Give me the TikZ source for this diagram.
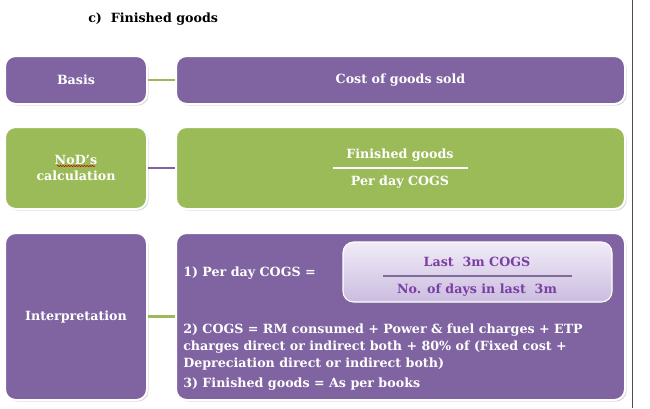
\documentclass[tikz,border=0pt]{standalone}
\usepackage{fontspec}
\setmainfont{DejaVu Serif}
\usetikzlibrary{positioning,shadows,decorations.pathmorphing}

\definecolor{boxpurple}{HTML}{8064A2}
\definecolor{boxgreen}{HTML}{9BBB59}
\definecolor{lavtop}{HTML}{F1ECF7}
\definecolor{lavbot}{HTML}{CBBCE0}
\definecolor{fractext}{HTML}{7A3FA3}
\definecolor{fracline}{HTML}{7E6B98}

\tikzset{
  box/.style={draw=white, line width=1.5pt, rounded corners=8pt, text=white,
    font=\fontsize{9.5}{12.5}\selectfont\bfseries, align=center, inner sep=0pt,
    drop shadow={opacity=0.3, shadow xshift=1.2pt, shadow yshift=-1.2pt}},
  pbox/.style={box, fill=boxpurple},
  gbox/.style={box, fill=boxgreen},
  txt/.style={text=white, font=\fontsize{9.5}{12.75}\selectfont\bfseries, inner sep=0pt},
  frac/.style={text=fractext, font=\fontsize{9.5}{11}\selectfont\bfseries, inner sep=0pt},
  link/.style={line width=2.2pt},
}

\begin{document}
\begin{tikzpicture}[x=0.75pt, y=-0.75pt]
    \useasboundingbox (0,0) rectangle (650,408);
    \draw[line width=0.6pt, black!70] (632,0) -- (632,408);

    % title
    \node[anchor=west, inner sep=0pt, font=\fontsize{9.5}{11}\selectfont\bfseries] (title) at (88,19) {c)\ \ Finished goods};

    % row 1
    \node[pbox, minimum width=106.5pt, minimum height=36pt] (basis) at (76,80) {Basis};
    \node[pbox, minimum width=336.75pt, minimum height=36pt] (cogs) at (400.5,80) {Cost of goods sold};
    \draw[link, boxgreen] (basis.east) -- (cogs.west);

    % row 2
    \node[gbox, minimum width=106.5pt, minimum height=61.5pt] (nod) at (76,168) {NoD’s\\calculation};
    \node[gbox, minimum width=336.75pt, minimum height=61.5pt] (calc) at (400.5,168) {};
    \draw[link, boxpurple] (nod.east) -- (calc.west);
    \draw[red!80!black, line width=0.4pt, decorate, decoration={snake, amplitude=0.5pt, segment length=2pt}] (57,166) -- (95,166);
    \node[txt] (fgnum) at (400,155) {Finished goods};
    \node[txt] (fgden) at (400,182) {Per day COGS};
    \coordinate (fgl) at (333,168);
    \coordinate (fgr) at (468,168);
    \draw[white, line width=1.6pt] (fgl) -- (fgr);

    % row 3
    \node[pbox, minimum width=106.5pt, minimum height=125.25pt] (interp) at (76,316.5) {Interpretation};
    \node[pbox, minimum width=336.75pt, minimum height=125.25pt] (detail) at (400.5,316.5) {};
    \draw[link, boxgreen] (interp.east) -- (detail.west);

    \node[draw=white, line width=0.8pt, rounded corners=8pt, top color=lavtop, bottom color=lavbot,
      minimum width=201.75pt, minimum height=45pt,
      drop shadow={opacity=0.3, shadow xshift=1pt, shadow yshift=-1pt}] (lavbox) at (477.5,272) {};
    \node[frac] (lastnum) at (477,262) {Last\ \ 3m COGS};
    \node[frac] (lastden) at (477,290) {No. of days in last\ \ 3m};
    \coordinate (ll) at (383,276);
    \coordinate (lr) at (572,276);
    \draw[fracline, line width=1.6pt] (ll) -- (lr);

    \node[txt, anchor=west] (step1) at (183,273) {1) Per day COGS =};
    \node[txt, anchor=west, align=left] (step2) at (183,347)
      {2) COGS = RM consumed + Power \& fuel charges + ETP\\
       charges direct or indirect both + 80\% of (Fixed cost +\\
       Depreciation direct or indirect both)};
    \node[txt, anchor=west] (step3) at (183,384) {3) Finished goods = As per books};
\end{tikzpicture}
\end{document}
